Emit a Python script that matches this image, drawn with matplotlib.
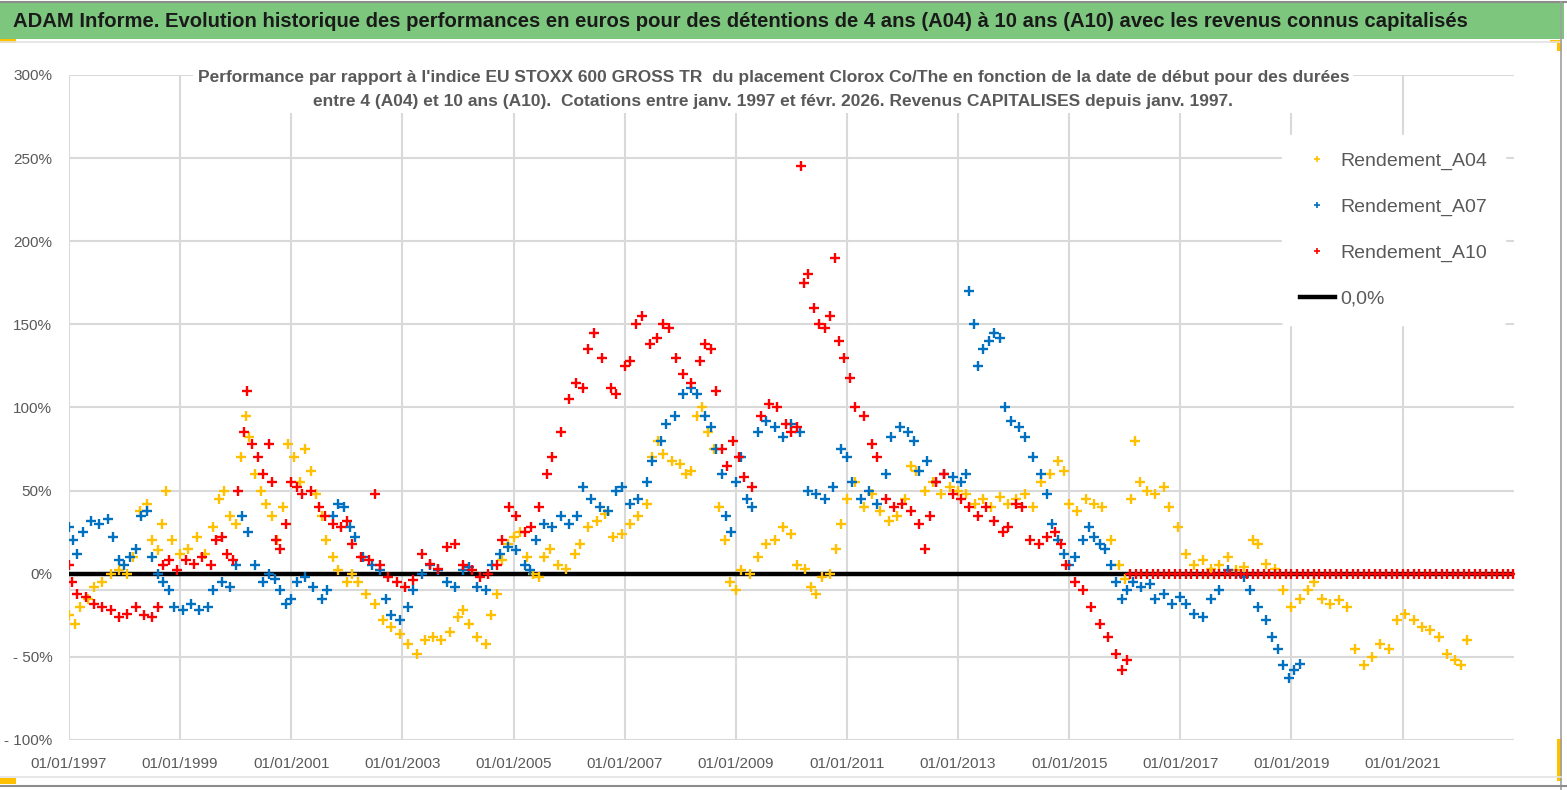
import matplotlib
matplotlib.use('Agg')
import matplotlib.pyplot as plt
from matplotlib.lines import Line2D
from matplotlib.patches import Rectangle
import numpy as np
import pandas as pd


# values (decimal year, performance in %)
a04_t = [1997.0, 1997.1, 1997.2, 1997.35, 1997.45, 1997.6, 1997.75, 1997.9, 1998.05, 1998.15,
         1998.28, 1998.4, 1998.5, 1998.6, 1998.68, 1998.75, 1998.85, 1999.0, 1999.15, 1999.3,
         1999.45, 1999.6, 1999.7, 1999.8, 1999.9, 2000.0, 2000.1, 2000.18, 2000.25, 2000.35,
         2000.45, 2000.55, 2000.65, 2000.75, 2000.85, 2000.95, 2001.05, 2001.15, 2001.25, 2001.35,
         2001.45, 2001.55, 2001.62, 2001.75, 2001.85, 2002.0, 2002.1, 2002.2, 2002.35, 2002.5,
         2002.65, 2002.8, 2002.95, 2003.1, 2003.26, 2003.4, 2003.55, 2003.7, 2003.85, 2004.0,
         2004.1, 2004.2, 2004.35, 2004.5, 2004.6, 2004.7, 2004.8, 2004.9, 2005.0, 2005.12,
         2005.25, 2005.35, 2005.45, 2005.55, 2005.65, 2005.8, 2005.95, 2006.1, 2006.2, 2006.35,
         2006.5, 2006.65, 2006.8, 2006.95, 2007.1, 2007.25, 2007.4, 2007.5, 2007.6, 2007.7,
         2007.85, 2008.0, 2008.1, 2008.2, 2008.3, 2008.4, 2008.5, 2008.6, 2008.7, 2008.8,
         2008.9, 2009.0, 2009.1, 2009.25, 2009.4, 2009.55, 2009.7, 2009.85, 2010.0, 2010.1,
         2010.25, 2010.35, 2010.45, 2010.55, 2010.7, 2010.8, 2010.9, 2011.0, 2011.15, 2011.3,
         2011.45, 2011.6, 2011.75, 2011.9, 2012.05, 2012.15, 2012.25, 2012.4, 2012.55, 2012.7,
         2012.85, 2013.0, 2013.15, 2013.3, 2013.45, 2013.6, 2013.75, 2013.9, 2014.05, 2014.2,
         2014.35, 2014.5, 2014.65, 2014.8, 2014.9, 2015.0, 2015.15, 2015.3, 2015.45, 2015.6,
         2015.75, 2015.9, 2016.0, 2016.12, 2016.18, 2016.28, 2016.4, 2016.55, 2016.7, 2016.8,
         2016.95, 2017.1, 2017.25, 2017.4, 2017.55, 2017.7, 2017.85, 2018.0, 2018.15, 2018.3,
         2018.4, 2018.55, 2018.7, 2018.85, 2019.0, 2019.15, 2019.3, 2019.4, 2019.55, 2019.7,
         2019.85, 2020.0, 2020.15, 2020.3, 2020.45, 2020.6, 2020.75, 2020.9, 2021.05, 2021.2,
         2021.35, 2021.5, 2021.65, 2021.8, 2021.95, 2022.05, 2022.15]
a04_v = [-25, -30, -20, -15, -8, -5, 0, 2, 0, 10,
         38, 42, 20, 14, 30, 50, 20, 12, 15, 22,
         12, 28, 45, 50, 35, 30, 70, 95, 82, 60,
         50, 42, 35, 20, 40, 78, 70, 55, 75, 62,
         48, 35, 20, 10, 2, -5, 0, -5, -12, -18,
         -28, -32, -36, -42, -48, -40, -38, -40, -35, -26,
         -22, -30, -38, -42, -25, -12, 8, 18, 22, 25,
         10, 0, -2, 10, 15, 5, 3, 12, 18, 28,
         32, 36, 22, 24, 30, 35, 42, 70, 80, 72,
         68, 66, 60, 62, 95, 100, 85, 75, 40, 20,
         -5, -10, 2, 0, 10, 18, 20, 28, 24, 5,
         3, -8, -12, -2, 0, 15, 30, 45, 55, 40,
         48, 38, 32, 35, 45, 65, 62, 50, 55, 48,
         52, 50, 48, 42, 45, 40, 46, 42, 45, 48,
         40, 55, 60, 68, 62, 42, 38, 45, 42, 40,
         20, 5, -3, 45, 80, 55, 50, 48, 52, 40,
         28, 12, 5, 8, 3, 5, 10, 2, 4, 20,
         18, 6, 3, -10, -20, -15, -10, -5, -15, -18,
         -16, -20, -45, -55, -50, -42, -45, -28, -24, -28,
         -32, -34, -38, -48, -52, -55, -40]

a07_t = [1997.0, 1997.08, 1997.15, 1997.25, 1997.4, 1997.55, 1997.7, 1997.8, 1997.9, 1998.0,
         1998.1, 1998.2, 1998.3, 1998.4, 1998.5, 1998.6, 1998.7, 1998.8, 1998.9, 1999.05,
         1999.2, 1999.35, 1999.5, 1999.6, 1999.75, 1999.9, 2000.0, 2000.12, 2000.22, 2000.35,
         2000.5, 2000.6, 2000.7, 2000.8, 2000.9, 2001.0, 2001.1, 2001.25, 2001.4, 2001.55,
         2001.65, 2001.75, 2001.85, 2001.95, 2002.05, 2002.15, 2002.3, 2002.45, 2002.6, 2002.7,
         2002.8, 2002.95, 2003.1, 2003.2, 2003.35, 2003.5, 2003.65, 2003.8, 2003.95, 2004.1,
         2004.2, 2004.35, 2004.5, 2004.62, 2004.75, 2004.9, 2005.05, 2005.2, 2005.3, 2005.4,
         2005.55, 2005.7, 2005.85, 2006.0, 2006.15, 2006.25, 2006.4, 2006.55, 2006.7, 2006.85,
         2006.95, 2007.1, 2007.25, 2007.4, 2007.5, 2007.65, 2007.75, 2007.9, 2008.05, 2008.2,
         2008.3, 2008.45, 2008.55, 2008.65, 2008.75, 2008.82, 2008.92, 2009.0, 2009.1, 2009.2,
         2009.3, 2009.4, 2009.55, 2009.7, 2009.85, 2010.0, 2010.15, 2010.3, 2010.45, 2010.6,
         2010.75, 2010.9, 2011.0, 2011.1, 2011.25, 2011.4, 2011.55, 2011.7, 2011.8, 2011.95,
         2012.1, 2012.2, 2012.3, 2012.45, 2012.6, 2012.75, 2012.9, 2013.05, 2013.15, 2013.2,
         2013.28, 2013.35, 2013.45, 2013.55, 2013.65, 2013.75, 2013.85, 2013.95, 2014.1, 2014.2,
         2014.35, 2014.5, 2014.6, 2014.7, 2014.8, 2014.9, 2015.0, 2015.1, 2015.25, 2015.35,
         2015.45, 2015.55, 2015.65, 2015.75, 2015.85, 2015.95, 2016.05, 2016.15, 2016.3, 2016.45,
         2016.55, 2016.7, 2016.85, 2017.0, 2017.1, 2017.25, 2017.4, 2017.55, 2017.7, 2017.85,
         2018.0, 2018.15, 2018.25, 2018.4, 2018.55, 2018.65, 2018.75, 2018.85, 2018.95, 2019.05,
         2019.15]
a07_v = [28, 20, 12, 25, 32, 30, 33, 22, 8, 5,
         10, 15, 35, 38, 10, 0, -5, -10, -20, -22,
         -18, -22, -20, -10, -5, -8, 5, 35, 25, 5,
         -5, 0, -3, -10, -18, -15, -5, -2, -8, -15,
         -10, 35, 42, 40, 28, 22, 10, 5, 2, -15,
         -25, -28, -20, -10, 0, 5, 2, -5, -8, 2,
         4, -8, -10, 5, 12, 16, 14, 5, 2, 20,
         30, 28, 35, 30, 35, 52, 45, 40, 38, 50,
         52, 42, 45, 55, 68, 80, 90, 95, 108, 112,
         108, 95, 88, 75, 60, 35, 25, 55, 70, 45,
         40, 85, 92, 88, 82, 90, 85, 50, 48, 45,
         52, 75, 70, 55, 45, 50, 42, 60, 82, 88,
         85, 80, 62, 68, 55, 60, 58, 55, 60, 170,
         150, 125, 135, 140, 145, 142, 100, 92, 88, 82,
         70, 60, 48, 30, 20, 12, 5, 10, 20, 28,
         22, 18, 15, 5, -5, -15, -10, -5, -8, -6,
         -15, -12, -18, -14, -18, -24, -26, -15, -10, 2,
         0, -2, -10, -20, -28, -38, -45, -55, -63, -58,
         -54]

a10_t = [1997.0, 1997.05, 1997.15, 1997.3, 1997.45, 1997.6, 1997.75, 1997.9, 1998.05, 1998.2,
         1998.35, 1998.5, 1998.6, 1998.7, 1998.8, 1998.95, 1999.1, 1999.25, 1999.4, 1999.55,
         1999.65, 1999.75, 1999.85, 1999.95, 2000.05, 2000.15, 2000.2, 2000.3, 2000.4, 2000.5,
         2000.6, 2000.65, 2000.72, 2000.8, 2000.9, 2001.0, 2001.1, 2001.2, 2001.35, 2001.5,
         2001.6, 2001.75, 2001.9, 2002.0, 2002.1, 2002.25, 2002.4, 2002.5, 2002.6, 2002.75,
         2002.9, 2003.05, 2003.2, 2003.35, 2003.5, 2003.65, 2003.8, 2003.95, 2004.1, 2004.25,
         2004.4, 2004.55, 2004.7, 2004.8, 2004.92, 2005.05, 2005.2, 2005.32, 2005.45, 2005.6,
         2005.7, 2005.85, 2006.0, 2006.12, 2006.25, 2006.35, 2006.45, 2006.6, 2006.75, 2006.85,
         2007.0, 2007.1, 2007.2, 2007.32, 2007.45, 2007.58, 2007.7, 2007.8, 2007.92, 2008.05,
         2008.2, 2008.35, 2008.45, 2008.55, 2008.65, 2008.75, 2008.85, 2008.95, 2009.05, 2009.15,
         2009.3, 2009.45, 2009.6, 2009.75, 2009.9, 2010.0, 2010.1, 2010.17, 2010.22, 2010.3,
         2010.4, 2010.5, 2010.6, 2010.7, 2010.78, 2010.85, 2010.95, 2011.05, 2011.15, 2011.3,
         2011.45, 2011.55, 2011.7, 2011.85, 2012.0, 2012.15, 2012.3, 2012.4, 2012.5, 2012.6,
         2012.75, 2012.9, 2013.05, 2013.2, 2013.35, 2013.5, 2013.65, 2013.8, 2013.9, 2014.05,
         2014.15, 2014.3, 2014.45, 2014.6, 2014.75, 2014.85, 2014.95, 2015.1, 2015.25, 2015.4,
         2015.55, 2015.7, 2015.85, 2015.95, 2016.05]
a10_v = [5, -5, -12, -14, -18, -20, -22, -26, -24, -20,
         -25, -26, -20, 5, 8, 2, 8, 6, 10, 5,
         20, 22, 12, 8, 50, 85, 110, 78, 70, 60,
         78, 55, 20, 15, 30, 55, 52, 48, 50, 40,
         35, 30, 28, 32, 18, 10, 8, 48, 5, -2,
         -5, -8, -4, 12, 6, 3, 16, 18, 5, 2,
         -2, 0, 5, 20, 40, 35, 25, 28, 40, 60,
         70, 85, 105, 115, 112, 135, 145, 130, 112, 108,
         125, 128, 150, 155, 138, 142, 150, 148, 130, 120,
         115, 128, 138, 135, 110, 75, 65, 80, 70, 58,
         52, 95, 102, 100, 90, 85, 88, 245, 175, 180,
         160, 150, 148, 155, 190, 140, 130, 118, 100, 95,
         78, 70, 45, 40, 42, 38, 30, 15, 35, 55,
         60, 48, 45, 40, 35, 40, 32, 25, 28, 42,
         40, 20, 18, 22, 25, 18, 5, -5, -10, -20,
         -30, -38, -48, -58, -52]

# after early 2016 the 10 year series sits at 0 (no full period yet)
a10_zero_t = [2016.1, 2016.2, 2016.3, 2016.4, 2016.5, 2016.6, 2016.7, 2016.8, 2016.9, 2017.0,
              2017.1, 2017.2, 2017.3, 2017.4, 2017.5, 2017.6, 2017.7, 2017.8, 2017.9, 2018.0,
              2018.1, 2018.2, 2018.3, 2018.4, 2018.5, 2018.6, 2018.7, 2018.8, 2018.9, 2019.0,
              2019.1, 2019.2, 2019.3, 2019.4, 2019.5, 2019.6, 2019.7, 2019.8, 2019.9, 2020.0,
              2020.1, 2020.2, 2020.3, 2020.4, 2020.5, 2020.6, 2020.7, 2020.8, 2020.9, 2021.0,
              2021.1, 2021.2, 2021.3, 2021.4, 2021.5, 2021.6, 2021.7, 2021.8, 2021.9, 2022.0,
              2022.1, 2022.2, 2022.3, 2022.4, 2022.5, 2022.6, 2022.7, 2022.8, 2022.9, 2022.98]
a10_zero_v = [0] * len(a10_zero_t)

yTicks      = [-100, -50, 0, 50, 100, 150, 200, 250, 300]
yTickLabels = ['- 100%', '- 50%', '0%', '50%', '100%', '150%', '200%', '250%', '300%']
xTickYears  = [1997, 1999, 2001, 2003, 2005, 2007, 2009, 2011, 2013, 2015, 2017, 2019, 2021]

mainTitle = ("ADAM Informe. Evolution historique des performances en euros pour des détentions "
             "de 4 ans (A04) à 10 ans (A10) avec les revenus connus capitalisés")
subTitle = ("Performance par rapport à l'indice EU STOXX 600 GROSS TR  du placement Clorox Co/The "
            "en fonction de la date de début pour des durées\n"
            "entre 4 (A04) et 10 ans (A10).  Cotations entre janv. 1997 et févr. 2026. "
            "Revenus CAPITALISES depuis janv. 1997.")

colA04 = '#FFC000'
colA07 = '#0070C0'
colA10 = '#FF0000'
txtCol = '#595959'
gridCol = '#D9D9D9'

plt.rcParams['font.family'] = ['Liberation Sans', 'DejaVu Sans']


def to_dates(years):
	# decimal years -> datetimes
	out = []
	for y in years:
		yr = int(np.floor(y))
		start = pd.Timestamp(yr, 1, 1)
		end = pd.Timestamp(yr + 1, 1, 1)
		out.append(start + (end - start) * (y - yr))
	return out


fig = plt.figure(figsize=(15.67, 7.90), dpi=100)
fig.patch.set_facecolor('white')

# banner and chart frame
fig.patches.append(Rectangle((0, 0.951), 0.998, 0.046, transform=fig.transFigure,
                             facecolor='#7DC67D', edgecolor='none', zorder=0))
fig.add_artist(Line2D([0, 1], [0.998, 0.998], color='#8C8C8C', lw=1.5, transform=fig.transFigure))
fig.add_artist(Line2D([0, 0.996], [0.947, 0.947], color='#E3E3E3', lw=1.2, transform=fig.transFigure))
fig.add_artist(Line2D([0.996, 0.996], [0.0, 0.997], color='#A0A0A0', lw=1.2, transform=fig.transFigure))
fig.add_artist(Line2D([0, 0.996], [0.016, 0.016], color='#E3E3E3', lw=1.2, transform=fig.transFigure))
fig.add_artist(Line2D([0, 1], [0.005, 0.005], color='#8C8C8C', lw=1.5, transform=fig.transFigure))
fig.patches.append(Rectangle((0, 0.945), 0.01, 0.006, transform=fig.transFigure,
                             facecolor='#FFC000', edgecolor='none'))
fig.patches.append(Rectangle((0, 0.007), 0.01, 0.008, transform=fig.transFigure,
                             facecolor='#FFC000', edgecolor='none'))
fig.patches.append(Rectangle((0.9935, 0.012), 0.003, 0.052, transform=fig.transFigure,
                             facecolor='#FFC000', edgecolor='none'))
fig.patches.append(Rectangle((0.9935, 0.935), 0.003, 0.013, transform=fig.transFigure,
                             facecolor='#FFC000', edgecolor='none'))
fig.patches.append(Rectangle((0.989, 0.945), 0.0075, 0.004, transform=fig.transFigure,
                             facecolor='#FFC000', edgecolor='none'))

fig.text(0.008, 0.973, mainTitle, fontsize=14.6, fontweight='bold', color='#1A1A1A',
         ha='left', va='center')

ax = fig.add_axes([0.044, 0.0633, 0.922, 0.8418])

xmin = pd.Timestamp(1997, 1, 1)
xmax = pd.Timestamp(2023, 1, 1)

for yv in yTicks + [-10]:
	ax.axhline(yv, color=gridCol, lw=1.5, zorder=1)
for yr in xTickYears:
	ax.axvline(pd.Timestamp(yr, 1, 1), color=gridCol, lw=1.5, zorder=1)

ax.plot([xmin, xmax], [0, 0], color='black', lw=3.2, zorder=2)

mk = dict(linestyle='none', marker='+', markersize=6.5, markeredgewidth=1.7, zorder=3)
ax.plot(to_dates(a04_t), a04_v, color=colA04, **mk)
ax.plot(to_dates(a07_t), a07_v, color=colA07, **mk)
ax.plot(to_dates(a10_t), a10_v, color=colA10, **mk)
ax.plot(to_dates(a10_zero_t), a10_zero_v, color=colA10, **mk)

ax.set_xlim(xmin, xmax)
ax.set_ylim(-100, 300)
ax.set_yticks(yTicks)
ax.set_yticklabels(yTickLabels)
ax.set_xticks([pd.Timestamp(yr, 1, 1) for yr in xTickYears])
ax.set_xticklabels(['01/01/' + str(yr) for yr in xTickYears])
ax.tick_params(axis='both', length=0, colors=txtCol, labelsize=11)
ax.tick_params(axis='x', pad=12)
ax.tick_params(axis='y', pad=12)
for sp in ax.spines.values():
	sp.set_visible(False)

fig.text(0.4935, 0.887, subTitle, fontsize=12.5, fontweight='bold', color=txtCol,
         ha='center', va='center', linespacing=1.75, zorder=6,
         bbox=dict(facecolor='white', edgecolor='none', pad=3))

handles = [Line2D([], [], color=colA04, marker='+', linestyle='none', markersize=5, markeredgewidth=1.2),
           Line2D([], [], color=colA07, marker='+', linestyle='none', markersize=5, markeredgewidth=1.2),
           Line2D([], [], color=colA10, marker='+', linestyle='none', markersize=5, markeredgewidth=1.2),
           Line2D([], [], color='black', lw=3.2)]
labels = ['Rendement_A04', 'Rendement_A07', 'Rendement_A10', '0,0%']
leg = ax.legend(handles, labels, loc='upper left', bbox_to_anchor=(0.833, 0.925), frameon=True,
                facecolor='white', edgecolor='white', framealpha=1.0, fontsize=14,
                labelspacing=1.45, handlelength=1.8, handletextpad=0.3, borderpad=0.9)
for t in leg.get_texts():
	t.set_color(txtCol)
leg.set_zorder(5)

plt.savefig('out.png', dpi=100)
